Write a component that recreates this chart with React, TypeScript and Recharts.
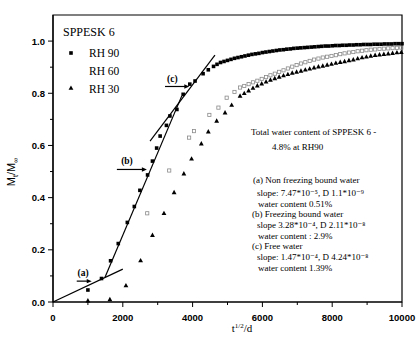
import React from 'react';
import { ScatterChart, Scatter, XAxis, YAxis, ReferenceLine, ReferenceArea } from 'recharts';

const xTicks = [0, 1000, 2000, 3000, 4000, 5000, 6000, 7000, 8000, 9000, 10000];
const yTicks = [0, 0.1, 0.2, 0.3, 0.4, 0.5, 0.6, 0.7, 0.8, 0.9, 1.0];

const rh90X = [1000, 1390, 1650, 1870, 2130, 2330, 2490, 2710, 2850, 2970, 3070, 3250, 3350, 3550, 3730, 3920, 4070, 4300, 4450, 4600, 4700,
  4800, 4900, 5000, 5100, 5200, 5300, 5400, 5500, 5600, 5700, 5800, 5900, 6000, 6100, 6200, 6300, 6400, 6500, 6600, 6700, 6800, 6900,
  7000, 7100, 7200, 7300, 7400, 7500, 7600, 7700, 7800, 7900, 8000, 8100, 8200, 8300, 8400, 8500, 8600, 8700, 8800, 8900,
  9000, 9100, 9200, 9300, 9400, 9500, 9600, 9700, 9800, 9900, 10000];
const rh90Y = [0.046, 0.09, 0.158, 0.224, 0.305, 0.366, 0.428, 0.487, 0.54, 0.59, 0.636, 0.677, 0.713, 0.738, 0.796, 0.835, 0.847, 0.875, 0.89, 0.903, 0.911,
  0.918, 0.922, 0.926, 0.93, 0.934, 0.937, 0.94, 0.943, 0.946, 0.949, 0.951, 0.953, 0.956, 0.958, 0.96, 0.962, 0.964, 0.966, 0.967, 0.969, 0.97, 0.972,
  0.973, 0.974, 0.975, 0.976, 0.977, 0.978, 0.979, 0.98, 0.981, 0.981, 0.982, 0.983, 0.983, 0.984, 0.984, 0.985, 0.985, 0.986, 0.986, 0.987,
  0.987, 0.987, 0.988, 0.988, 0.988, 0.989, 0.989, 0.989, 0.99, 0.99, 0.99];

const rh60X = [2700, 3330, 3900, 4040, 4480, 4740, 4976, 5200, 5360,
  5480, 5605, 5730, 5855, 5980, 6105, 6230, 6355, 6480, 6605, 6730, 6855, 6980, 7105, 7230, 7355, 7480, 7605, 7730, 7855, 7980,
  8105, 8230, 8355, 8480, 8605, 8730, 8855, 8980, 9105, 9230, 9355, 9480, 9605, 9730, 9855, 9980];
const rh60Y = [0.34, 0.504, 0.63, 0.655, 0.717, 0.745, 0.783, 0.805, 0.822,
  0.828, 0.835, 0.842, 0.848, 0.855, 0.862, 0.869, 0.875, 0.882, 0.888, 0.895, 0.902, 0.908, 0.914, 0.919, 0.924, 0.929, 0.933, 0.937, 0.94, 0.943,
  0.946, 0.95, 0.953, 0.956, 0.958, 0.961, 0.963, 0.965, 0.967, 0.968, 0.97, 0.971, 0.972, 0.973, 0.974, 0.975];

const rh30X = [1000, 1630, 2090, 2510, 2850, 3180, 3470, 3750, 3970, 4250, 4450, 4690, 4930, 5120, 5360,
  5480, 5605, 5730, 5855, 5980, 6105, 6230, 6355, 6480, 6605, 6730, 6855, 6980, 7105, 7230, 7355, 7480, 7605, 7730, 7855, 7980,
  8105, 8230, 8355, 8480, 8605, 8730, 8855, 8980, 9105, 9230, 9355, 9480, 9605, 9730, 9855, 9980];
const rh30Y = [0.005, 0.01, 0.063, 0.159, 0.256, 0.34, 0.42, 0.492, 0.549, 0.607, 0.653, 0.694, 0.726, 0.755, 0.79,
  0.8, 0.81, 0.82, 0.829, 0.837, 0.844, 0.851, 0.857, 0.863, 0.868, 0.873, 0.878, 0.882, 0.886, 0.89, 0.894, 0.898, 0.902, 0.905, 0.909, 0.912,
  0.916, 0.919, 0.922, 0.926, 0.929, 0.933, 0.937, 0.94, 0.943, 0.946, 0.948, 0.95, 0.952, 0.954, 0.956, 0.957];

// fitted straight lines (a), (b), (c)
const fitA = [{ x: 0, y: 0 }, { x: 2000, y: 0.126 }];
const fitB = [{ x: 1490, y: 0.095 }, { x: 3690, y: 0.79 }];
const fitC = [{ x: 2780, y: 0.617 }, { x: 4640, y: 0.946 }];

// arrows: start x, end x, level
const arrowNames = ['(a)', '(b)', '(c)'];
const arrowStart = [680, 1830, 3210];
const arrowEnd = [1110, 2690, 3905];
const arrowLevel = [0.08, 0.508, 0.826];
const arrowLabelX = [860, 2120, 3420];
const arrowLabelY = [0.112, 0.54, 0.856];

const zip = (xs: number[], ys: number[]) => xs.map((x, i) => ({ x, y: ys[i] }));
const rh90 = zip(rh90X, rh90Y);
const rh60 = zip(rh60X, rh60Y);
const rh30 = zip(rh30X, rh30Y);
const arrowTips = arrowEnd.map((x, i) => ({ x, y: arrowLevel[i] }));
const arrowLabels = arrowNames.map((n, i) => ({ x: arrowLabelX[i], y: arrowLabelY[i], name: n }));

const SERIF = '"Liberation Serif", "DejaVu Serif", serif';
const SANS = '"Liberation Sans", Arial, sans-serif';

const Square = (p: any) => <rect x={p.cx - 1.8} y={p.cy - 1.8} width={3.6} height={3.6} fill="#000" />;
const Hollow = (p: any) => <rect x={p.cx - 1.6} y={p.cy - 1.6} width={3.2} height={3.2} fill="none" stroke="#8a8a8a" strokeWidth={0.8} />;
const Tri = (p: any) => <path d={`M${p.cx},${p.cy - 2.6}L${p.cx + 2.4},${p.cy + 1.8}L${p.cx - 2.4},${p.cy + 1.8}Z`} fill="#000" />;
const Head = (p: any) => <path d={`M${p.cx},${p.cy}L${p.cx - 5},${p.cy - 2.2}L${p.cx - 5},${p.cy + 2.2}Z`} fill="#000" />;
const LabelShape = (p: any) => (
  <text x={p.cx} y={p.cy} dy={3} textAnchor="middle" fontFamily={SERIF} fontSize={9.5} fontWeight="bold" fill="#000">
    {p.payload.name}
  </text>
);

const YTick = (p: any) => {
  const v = p.payload.value;
  const major = Math.round(v * 10) % 2 === 0;
  return (
    <g>
      <line x1={p.x} x2={p.x - (major ? 5 : 3)} y1={p.y} y2={p.y} stroke="#000" strokeWidth={1} />
      {major && (
        <text x={p.x - 8} y={p.y} dy={3.5} textAnchor="end" fontFamily={SANS} fontWeight="bold" fontSize={9.5} fill="#000">
          {v.toFixed(1)}
        </text>
      )}
    </g>
  );
};
const XTick = (p: any) => {
  const v = p.payload.value;
  const major = v % 2000 === 0;
  return (
    <g>
      <line x1={p.x} x2={p.x} y1={p.y} y2={p.y + (major ? 5 : 3)} stroke="#000" strokeWidth={1} />
      {major && (
        <text x={p.x} y={p.y + 19} textAnchor="middle" fontFamily={SANS} fontWeight="bold" fontSize={9.5} fill="#000">
          {v}
        </text>
      )}
    </g>
  );
};
const TopTick = (p: any) => (
  <line x1={p.x} x2={p.x} y1={p.y} y2={p.y + 3} stroke="#000" strokeWidth={1} />
);

const notes: { t: string; x: number; y: number }[] = [
  { t: 'Total water content of SPPESK 6 -', x: 251, y: 135 },
  { t: '4.8% at RH90', x: 272, y: 150 },
  { t: '(a) Non freezing bound water', x: 253, y: 183 },
  { t: 'slope: 7.47*10\u207B\u2075, D  1.1*10\u207B\u2079', x: 257, y: 196 },
  { t: 'water content  0.51%', x: 258, y: 207 },
  { t: '(b) Freezing bound water', x: 252, y: 217 },
  { t: 'slope  3.28*10\u207B\u2074, D  2.11*10\u207B\u2078', x: 257, y: 228 },
  { t: 'water content : 2.9%', x: 258, y: 239 },
  { t: '(c) Free water', x: 252, y: 249 },
  { t: 'slope: 1.47*10\u207B\u2074, D  4.24*10\u207B\u2078', x: 257, y: 260 },
  { t: 'water content  1.39%', x: 258, y: 271 },
];

export default function App() {
  return (
    <div style={{ position: 'absolute', left: 0, top: 0, width: 417, height: 347, background: '#fff' }}>
      <ScatterChart width={417} height={347} margin={{ top: 15, right: 15, bottom: 15, left: 13 }}>
        <XAxis type="number" dataKey="x" domain={[0, 10000]} ticks={xTicks} interval={0} height={30}
          tickSize={0} tickMargin={0} tick={<XTick />} axisLine={{ stroke: '#000', strokeWidth: 1.2 }} />
        <XAxis xAxisId="top" orientation="top" type="number" dataKey="x" domain={[0, 10000]} ticks={xTicks} interval={0} height={0}
          tickSize={0} tickMargin={0} tick={<TopTick />} axisLine={false} />
        <YAxis type="number" dataKey="y" domain={[0, 1.1]} ticks={yTicks} interval={0} width={40}
          tickSize={0} tickMargin={0} tick={<YTick />} axisLine={{ stroke: '#000', strokeWidth: 1.2 }} />
        <ReferenceArea x1={0} x2={10000} y1={0} y2={1.1} fill="none" stroke="#000" strokeWidth={1.2} ifOverflow="visible" />
        <ReferenceLine segment={fitA} stroke="#000" strokeWidth={1.2} ifOverflow="visible" />
        <ReferenceLine segment={fitB} stroke="#000" strokeWidth={1.2} ifOverflow="visible" />
        <ReferenceLine segment={fitC} stroke="#000" strokeWidth={1.2} ifOverflow="visible" />
        {arrowStart.map((s, i) => (
          <ReferenceLine key={i} segment={[{ x: s, y: arrowLevel[i] }, { x: arrowEnd[i] - 120, y: arrowLevel[i] }]}
            stroke="#000" strokeWidth={1.2} ifOverflow="visible" />
        ))}
        <Scatter data={rh60} shape={<Hollow />} isAnimationActive={false} />
        <Scatter data={rh30} shape={<Tri />} isAnimationActive={false} />
        <Scatter data={rh90} shape={<Square />} isAnimationActive={false} />
        <Scatter data={arrowTips} shape={<Head />} isAnimationActive={false} />
        <Scatter data={arrowLabels} shape={<LabelShape />} isAnimationActive={false} />
      </ScatterChart>
      <svg width={417} height={347} style={{ position: 'absolute', left: 0, top: 0, pointerEvents: 'none' }}>
        <text x={63} y={36} fontFamily={SERIF} fontSize={12} fill="#000">SPPESK 6</text>
        <rect x={69.2} y={51.2} width={3.6} height={3.6} fill="#000" />
        <text x={89} y={57} fontFamily={SERIF} fontSize={11.5} fill="#000">RH 90</text>
        <text x={89} y={75} fontFamily={SERIF} fontSize={11.5} fill="#000">RH 60</text>
        <path d="M71,85.4L73.4,89.8L68.6,89.8Z" fill="#000" />
        <text x={89} y={93} fontFamily={SERIF} fontSize={11.5} fill="#000">RH 30</text>
        {notes.map((n, i) => (
          <text key={i} x={n.x} y={n.y} fontFamily={SERIF} fontSize={9} fill="#000">{n.t}</text>
        ))}
        <text transform="translate(15,172) rotate(-90)" textAnchor="middle" fontFamily={SANS} fontSize={11} fill="#000">
          <tspan>M</tspan><tspan fontSize={7} dy={2.5}>t</tspan><tspan dy={-2.5}>/M</tspan><tspan fontSize={7} dy={2.5}>{'\u221E'}</tspan>
        </text>
        <text x={242} y={332} textAnchor="middle" fontFamily={SERIF} fontSize={11} fill="#000">
          <tspan>t</tspan><tspan fontSize={7} dy={-4}>1/2</tspan><tspan dy={4}>/d</tspan>
        </text>
      </svg>
    </div>
  );
}
